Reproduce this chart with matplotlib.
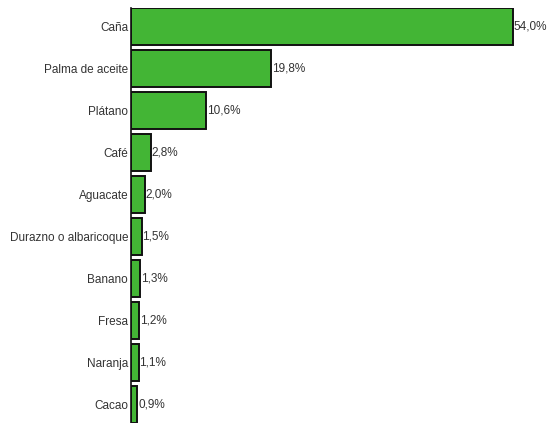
import matplotlib.pyplot as plt
from matplotlib import font_manager

cultivos = ["Caña", "Palma de aceite", "Plátano", "Café", "Aguacate",
            "Durazno o albaricoque", "Banano", "Fresa", "Naranja", "Cacao"]
porcentajes = [54.0, 19.8, 10.6, 2.8, 2.0, 1.5, 1.3, 1.2, 1.1, 0.9]

names = {f.name for f in font_manager.fontManager.ttflist}
fam = "Liberation Sans Narrow" if "Liberation Sans Narrow" in names else "Liberation Sans"
plt.rcParams['font.family'] = [fam, 'DejaVu Sans']

fig = plt.figure(figsize=(5.49, 4.23), dpi=100)
ax = fig.add_axes([131 / 549, 0, 424 / 549, 1 - 8.5 / 423])

pos = list(range(len(cultivos)))
ax.barh(pos, porcentajes, height=0.88, color="#43b535", edgecolor="#111111", linewidth=1.4)

for y, v in zip(pos, porcentajes):
    ax.text(v + 0.1, y, f"{v:.1f}%".replace(".", ","), va="center", ha="left",
            fontsize=8.5, color="#333333")

ax.set_yticks(pos)
ax.set_yticklabels(cultivos, fontsize=8.5, color="#333333")
ax.tick_params(axis="y", length=0, pad=2)
ax.set_xticks([])
ax.set_xlim(0, 60)
ax.set_ylim(9.43, -0.44)
for s in ["top", "right", "bottom"]:
    ax.spines[s].set_visible(False)
ax.spines["left"].set_color("#111111")
ax.spines["left"].set_linewidth(1.2)

fig.savefig("out.png", dpi=100)
